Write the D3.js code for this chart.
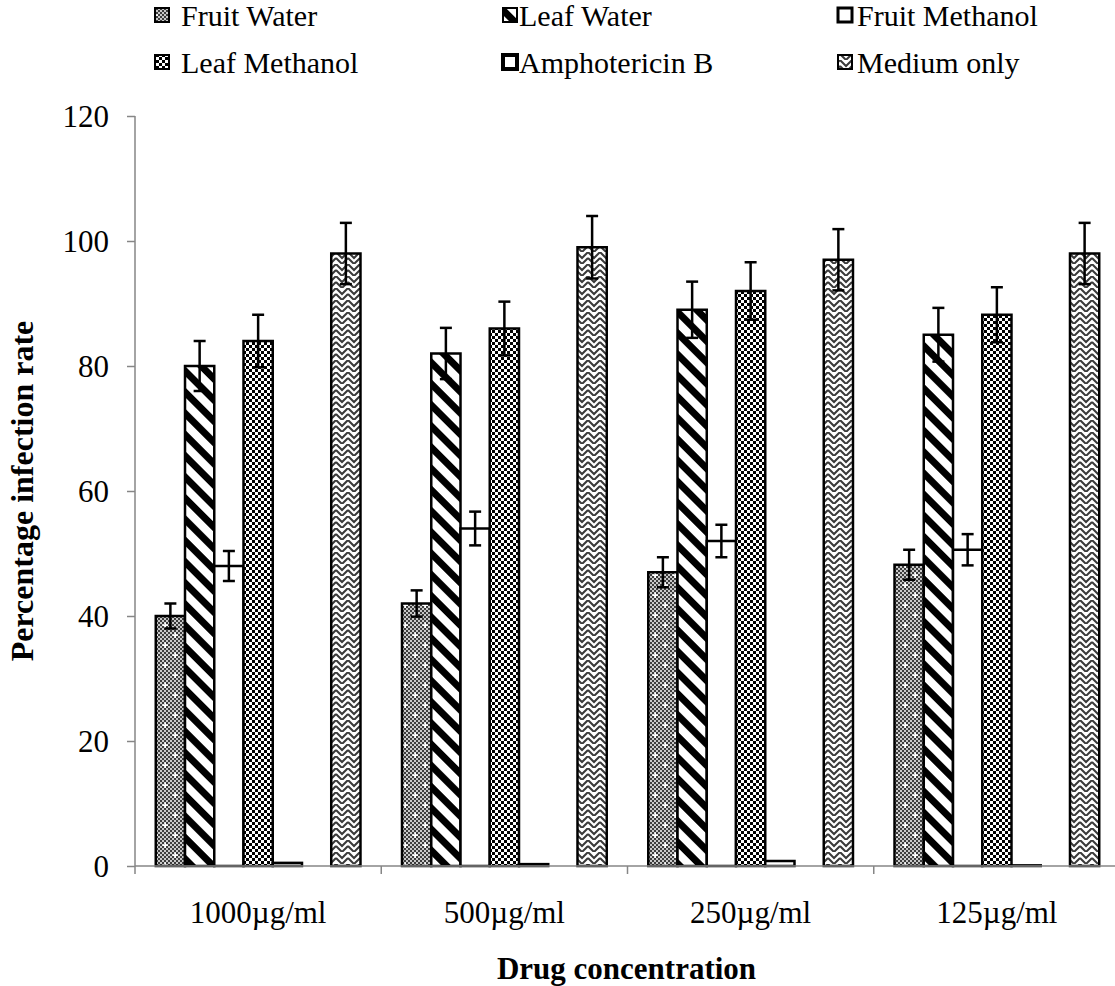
<!DOCTYPE html>
<html>
<head>
<meta charset="utf-8">
<script src="https://cdn.jsdelivr.net/npm/d3@7"></script>
<style>
  body { margin: 0; background: #fff; }
</style>
</head>
<body>
<div id="chart"></div>
<script>
// chart values
const groups = ["1000µg/ml", "500µg/ml", "250µg/ml", "125µg/ml"];
const seriesNames = ["Fruit Water", "Leaf Water", "Fruit Methanol", "Leaf Methanol", "Amphotericin B", "Medium only"];
// the Excel chart leaves one empty slot before "Medium only"
const slotOrder = ["Fruit Water", "Leaf Water", "Fruit Methanol", "Leaf Methanol", "Amphotericin B", "(empty)", "Medium only"];

const fruitWater = [40, 42, 47, 48.2];
const fruitWaterErr = [2, 2.1, 2.4, 2.4];
const leafWater = [80, 82, 89, 85];
const leafWaterErr = [4, 4.1, 4.5, 4.3];
const fruitMethanol = [48, 54, 52, 50.6];
const fruitMethanolErr = [2.4, 2.7, 2.6, 2.5];
const leafMethanol = [84, 86, 92, 88.2];
const leafMethanolErr = [4.2, 4.3, 4.6, 4.4];
const amphotericinB = [0.5, 0.3, 0.8, 0.1];
const amphotericinBErr = [0, 0, 0, 0];
const mediumOnly = [98, 99, 97, 98];
const mediumOnlyErr = [4.9, 5, 4.9, 4.9];

const yTicks = [0, 20, 40, 60, 80, 100, 120];

const values = [fruitWater, leafWater, fruitMethanol, leafMethanol, amphotericinB, mediumOnly];
const errors = [fruitWaterErr, leafWaterErr, fruitMethanolErr, leafMethanolErr, amphotericinBErr, mediumOnlyErr];
const fills = ["url(#pFW)", "url(#pLW)", "#fff", "url(#pLM)", "#fff", "url(#pMO)"];

const FONT = "'Liberation Serif', 'Times New Roman', serif";
const width = 1115, height = 986;
const plot = {left: 135, right: 1120, top: 116, bottom: 866};

let svg = d3.select("#chart").append("svg")
    .attr("width", width)
    .attr("height", height)
    .attr("font-family", FONT);

// ---- fill patterns ----
let defs = svg.append("defs");

let pFW = defs.append("pattern").attr("id", "pFW")
    .attr("patternUnits", "userSpaceOnUse").attr("width", 20).attr("height", 20);
pFW.append("rect").attr("width", 20).attr("height", 20).attr("fill", "#c8c8c8");
for (let i = 0; i < 10; i++) {
    for (let j = 0; j < 10; j++) {
        if ((i + j) % 2 == 0) {
            pFW.append("rect").attr("x", i * 2).attr("y", j * 2).attr("width", 2).attr("height", 2).attr("fill", "#3c3c3c");
        }
    }
}
[[5, 5], [15, 15]].forEach(function(p) {
    pFW.append("rect").attr("x", p[0] - 0.5).attr("y", p[1] - 2.5).attr("width", 1.5).attr("height", 5.5).attr("fill", "#fff");
    pFW.append("rect").attr("x", p[0] - 2.5).attr("y", p[1] - 0.5).attr("width", 5.5).attr("height", 1.5).attr("fill", "#fff");
});

let pLW = defs.append("pattern").attr("id", "pLW")
    .attr("patternUnits", "userSpaceOnUse").attr("width", 15).attr("height", 15)
    .attr("patternTransform", "rotate(-45)");
pLW.append("rect").attr("width", 15).attr("height", 15).attr("fill", "#fff");
pLW.append("rect").attr("width", 7).attr("height", 15).attr("fill", "#000");

let pLM = defs.append("pattern").attr("id", "pLM")
    .attr("patternUnits", "userSpaceOnUse").attr("width", 6).attr("height", 6);
pLM.append("rect").attr("width", 6).attr("height", 6).attr("fill", "#fff");
pLM.append("rect").attr("width", 3).attr("height", 3).attr("fill", "#000");
pLM.append("rect").attr("x", 3).attr("y", 3).attr("width", 3).attr("height", 3).attr("fill", "#000");

// herringbone-ish weave
let pMO = defs.append("pattern").attr("id", "pMO")
    .attr("patternUnits", "userSpaceOnUse").attr("width", 12).attr("height", 12);
pMO.append("rect").attr("width", 12).attr("height", 12).attr("fill", "#fff");
pMO.append("path").attr("d", "M0,0 L6,6 L12,0 M0,6 L6,12 L12,6")
    .attr("fill", "none").attr("stroke", "#3a3a3a").attr("stroke-width", 2);
pMO.append("path").attr("d", "M6,1.5 L6,3.5")
    .attr("stroke", "#fff").attr("stroke-width", 1.5);

// ---- scales ----
let x0 = d3.scaleBand().domain(groups).range([plot.left, plot.right]).padding(0);
let x1 = d3.scaleBand().domain(slotOrder).range([0, x0.bandwidth()])
    .paddingInner(0).paddingOuter(0.71);
let y = d3.scaleLinear().domain([0, 120]).range([plot.bottom, plot.top]);

// ---- bars ----
let barData = [];
groups.forEach(function(g, gi) {
    seriesNames.forEach(function(s, si) {
        barData.push({group: g, series: s, value: values[si][gi], err: errors[si][gi], fill: fills[si]});
    });
});

svg.append("g").selectAll("rect").data(barData).enter()
    .append("rect")
    .attr("x", function(d) { return x0(d.group) + x1(d.series); })
    .attr("y", function(d) { return y(d.value); })
    .attr("width", x1.bandwidth())
    .attr("height", function(d) { return y(0) - y(d.value); })
    .attr("fill", function(d) { return d.fill; })
    .attr("stroke", "#000")
    .attr("stroke-width", 2.5);

// ---- error bars ----
let errG = svg.append("g").attr("stroke", "#000").attr("stroke-width", 2.5);
barData.filter(function(d) { return d.err > 0; }).forEach(function(d) {
    let cx = x0(d.group) + x1(d.series) + x1.bandwidth() / 2;
    errG.append("line").attr("x1", cx).attr("x2", cx)
        .attr("y1", y(d.value + d.err)).attr("y2", y(d.value - d.err));
    errG.append("line").attr("x1", cx - 6).attr("x2", cx + 6)
        .attr("y1", y(d.value + d.err)).attr("y2", y(d.value + d.err));
    errG.append("line").attr("x1", cx - 6).attr("x2", cx + 6)
        .attr("y1", y(d.value - d.err)).attr("y2", y(d.value - d.err));
});

// ---- axes ----
let yAxis = svg.append("g")
    .attr("transform", "translate(" + plot.left + ",0)")
    .call(d3.axisLeft(y).tickValues(yTicks).tickSize(8).tickPadding(18));
yAxis.attr("font-family", FONT).attr("font-size", 31);
yAxis.select(".domain").attr("d", "M0," + plot.top + "V" + plot.bottom);
yAxis.selectAll("line, .domain").attr("stroke", "#868686").attr("stroke-width", 1.5);
yAxis.selectAll("text")
    .attr("dy", "0.33em")
    .style("font-family", FONT)
    .style("font-size", "31px")
    .attr("fill", "#000");

let xAxis = svg.append("g")
    .attr("transform", "translate(0," + plot.bottom + ")");
xAxis.append("line").attr("x1", plot.left).attr("x2", plot.right)
    .attr("stroke", "#868686").attr("stroke-width", 1.5);
xAxis.selectAll(".tick").data(groups.concat(["end"])).enter()
    .append("line")
    .attr("class", "tick")
    .attr("x1", function(d) { return d == "end" ? plot.right : x0(d); })
    .attr("x2", function(d) { return d == "end" ? plot.right : x0(d); })
    .attr("y1", 0).attr("y2", 8)
    .attr("stroke", "#868686").attr("stroke-width", 1.5);
xAxis.selectAll("text").data(groups).enter()
    .append("text")
    .attr("x", function(d) { return x0(d) + x0.bandwidth() / 2; })
    .attr("y", 57)
    .style("text-anchor", "middle")
    .style("font-family", FONT)
    .style("font-size", "31px")
    .text(function(d) { return d; });

// axis titles
svg.append("text")
    .attr("x", (plot.left + plot.right) / 2 - 1)
    .attr("y", 979)
    .style("text-anchor", "middle")
    .style("font-family", FONT)
    .style("font-size", "31px")
    .style("font-weight", "bold")
    .text("Drug concentration");

svg.append("text")
    .attr("transform", "translate(33," + 491 + ") rotate(-90)")
    .style("text-anchor", "middle")
    .style("font-family", FONT)
    .style("font-size", "32px")
    .style("font-weight", "bold")
    .text("Percentage infection rate");

// ---- legend ----
const legendTextX = [181, 519, 857];
const legendIconX = [155, 503, 838];
const legendY = [26, 73];
let legend = svg.append("g");
seriesNames.forEach(function(s, i) {
    let col = i % 3, ly = legendY[Math.floor(i / 3)];
    legend.append("rect")
        .attr("x", legendIconX[col]).attr("y", ly - 18)
        .attr("width", 14).attr("height", 14)
        .attr("fill", fills[i])
        .attr("stroke", "#000")
        .attr("stroke-width", i == 2 ? 3 : (i == 4 ? 4 : 2));
    legend.append("text")
        .attr("x", legendTextX[col]).attr("y", ly)
        .style("font-family", FONT)
        .style("font-size", "30px")
        .text(s);
});
</script>
</body>
</html>
